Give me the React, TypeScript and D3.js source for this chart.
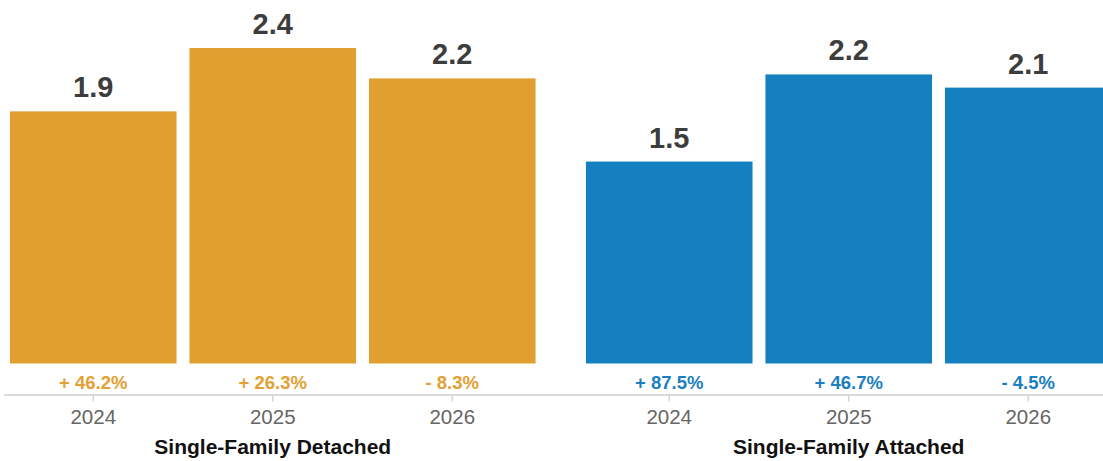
import React from "react";
import * as d3 from "d3";

const groups = ["Single-Family Detached", "Single-Family Attached"];
const years = ["2024", "2025", "2026"];
const detachedValues = [1.91, 2.39, 2.16];
const attachedValues = [1.53, 2.19, 2.09];
const detachedLabels = ["1.9", "2.4", "2.2"];
const attachedLabels = ["1.5", "2.2", "2.1"];
const detachedChange = ["+ 46.2%", "+ 26.3%", "- 8.3%"];
const attachedChange = ["+ 87.5%", "+ 46.7%", "- 4.5%"];

const W = 1103;
const H = 461;
const FONT = "'Liberation Sans', Arial, Helvetica, sans-serif";

export default function App() {
  const series = [
    { name: groups[0], values: detachedValues, labels: detachedLabels, change: detachedChange, color: "#E19F30", text: "#E3A033" },
    { name: groups[1], values: attachedValues, labels: attachedLabels, change: attachedChange, color: "#1480C0", text: "#1A7FC1" },
  ];
  const baseY = 363.5;
  const y = d3.scaleLinear().domain([0, 2.75]).range([baseY, baseY - 2.75 * 132]);
  const outer = d3.scaleBand<string>().domain(groups).range([3.5, 1118]).paddingInner(0.065);
  const inner = d3.scaleBand<string>().domain(years).range([0, outer.bandwidth()]).paddingInner(0.072).paddingOuter(0.036);
  const axisY = 395;

  return (
    <svg width={W} height={H} style={{ position: "absolute", left: 0, top: 0, display: "block" }} fontFamily={FONT}>
      <rect width={W} height={H} fill="#fff" />
      <line x1={4} x2={W} y1={axisY} y2={axisY} stroke="#dadada" strokeWidth={2} />
      {series.map((s) => {
        const gx = outer(s.name)!;
        return (
          <g key={s.name}>
            {years.map((yr, i) => {
              const x0 = gx + inner(yr)!;
              const bw = inner.bandwidth();
              const cx = x0 + bw / 2;
              const top = y(s.values[i]);
              return (
                <g key={yr}>
                  <rect x={x0} y={top} width={bw} height={baseY - top} fill={s.color} />
                  <text x={cx} y={top - 14} textAnchor="middle" fontSize={29} fontWeight="bold" fill="#3d3d3d">
                    {s.labels[i]}
                  </text>
                  <text x={cx} y={388.5} textAnchor="middle" fontSize={18.5} fontWeight="bold" fill={s.text}>
                    {s.change[i]}
                  </text>
                  <line x1={cx} x2={cx} y1={axisY} y2={401.5} stroke="#d4d4d4" strokeWidth={1.5} />
                  <text x={cx} y={423.5} textAnchor="middle" fontSize={20.5} fill="#666">
                    {yr}
                  </text>
                </g>
              );
            })}
            <text x={gx + inner(years[1])! + inner.bandwidth() / 2} y={453.5} textAnchor="middle" fontSize={21} fontWeight="bold" fill="#111">
              {s.name}
            </text>
          </g>
        );
      })}
    </svg>
  );
}
